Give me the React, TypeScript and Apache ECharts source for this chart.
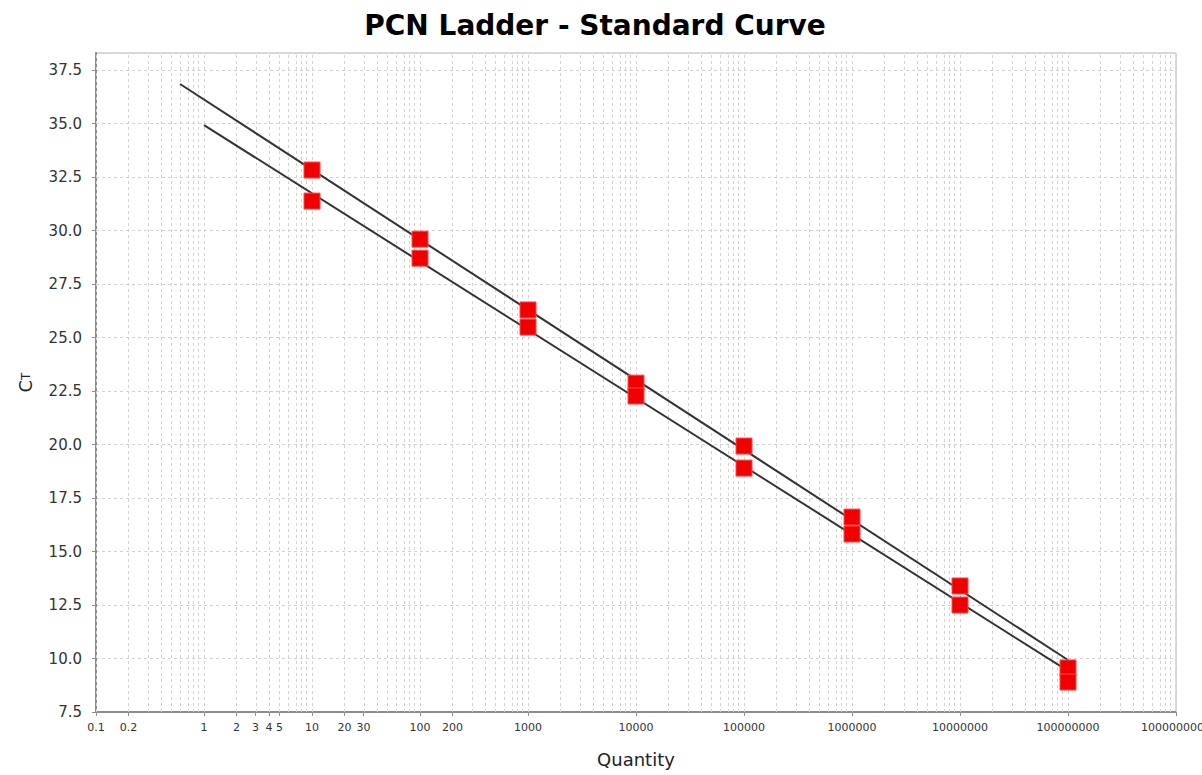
import React, { useEffect, useRef } from 'react';
import * as echarts from 'echarts';

// Quantities (copies) of the standards
const standardQuantity = [10, 100, 1000, 10000, 100000, 1000000, 10000000, 100000000];
// Ct values of the two replicate sets
const ctUpper = [32.83, 29.6, 26.29, 22.87, 19.93, 16.61, 13.39, 9.56];
const ctLower = [31.38, 28.71, 25.49, 22.27, 18.9, 15.82, 12.5, 8.9];
// Fitted standard-curve endpoints
const fitUpperQuantity = [0.6, 100000000];
const fitUpperCt = [36.85, 9.93];
const fitLowerQuantity = [1, 100000000];
const fitLowerCt = [34.93, 9.42];
// Tick labels of the quantity axis
const xTickQuantity = [0.1, 0.2, 1, 2, 3, 4, 5, 10, 20, 30, 100, 200, 1000, 10000, 100000, 1000000, 10000000, 100000000, 1000000000];
const xTickText = ['0.1', '0.2', '1', '2', '3', '4', '5', '10', '20', '30', '100', '200', '1000', '10000', '100000', '1000000', '10000000', '100000000', '1000000000'];
// Decades and minor multipliers of the log grid
const gridDecades = [0.1, 1, 10, 100, 1000, 10000, 100000, 1000000, 10000000, 100000000];
const gridMultipliers = [1, 2, 3, 4, 5, 6, 7, 8, 9];
const yMin = 7.5;
const yMax = 38.3;
const yStep = 2.5;

const lg = (q: number) => Math.log10(q);

export default function App() {
  const ref = useRef<HTMLDivElement>(null);
  useEffect(() => {
    document.body.style.margin = '0';
    const chart = echarts.init(ref.current as HTMLDivElement, null, { renderer: 'svg' });
    const gridLines: number[] = [];
    gridDecades.forEach((d) => gridMultipliers.forEach((m) => gridLines.push(lg(d * m))));
    gridLines.push(lg(1000000000));
    const tickVals = xTickQuantity.map(lg);
    const font = 'DejaVu Sans';
    const option: any = {
      animation: false,
      backgroundColor: '#ffffff',
      title: {
        text: 'PCN Ladder - Standard Curve',
        left: 590,
        textAlign: 'center',
        top: 6,
        textStyle: { fontFamily: font, fontWeight: 'bold', fontSize: 28, color: '#000' },
      },
      grid: {
        left: 96,
        right: 26,
        top: 53,
        bottom: 63,
        containLabel: false,
        outerBoundsMode: 'none',
        show: true,
        borderColor: '#b4b4b4',
        borderWidth: 1,
        backgroundColor: '#ffffff',
      },
      xAxis: {
        type: 'value',
        min: lg(0.1),
        max: lg(1000000000),
        name: 'Quantity',
        nameLocation: 'middle',
        nameGap: 38,
        nameTextStyle: { fontFamily: font, fontSize: 18, color: '#222' },
        axisLine: { show: true, onZero: false, lineStyle: { color: '#8c8c8c', width: 2 } },
        axisTick: { show: true, length: 4, customValues: tickVals, lineStyle: { color: '#8c8c8c' } },
        axisLabel: {
          customValues: tickVals,
          margin: 10,
          fontFamily: font,
          fontSize: 11,
          color: '#333',
          hideOverlap: false,
          formatter: (v: number) => {
            let best = 0;
            tickVals.forEach((t, i) => {
              if (Math.abs(t - v) < Math.abs(tickVals[best] - v)) best = i;
            });
            return xTickText[best];
          },
        },
        splitLine: { show: false },
      },
      yAxis: {
        type: 'value',
        min: yMin,
        max: yMax,
        interval: yStep,
        name: '{c|C}{t|T}',
        nameLocation: 'middle',
        nameRotate: 90,
        nameGap: 62,
        nameTextStyle: {
          fontFamily: font,
          color: '#222',
          rich: {
            c: { fontFamily: font, fontSize: 18, color: '#222' },
            t: { fontFamily: font, fontSize: 12, color: '#222', verticalAlign: 'bottom', padding: [0, 0, 2, 0] },
          },
        },
        axisLine: { show: true, onZero: false, lineStyle: { color: '#8c8c8c', width: 2 } },
        axisTick: { show: true, length: 4, lineStyle: { color: '#8c8c8c' } },
        axisLabel: {
          margin: 14,
          fontFamily: font,
          fontSize: 15,
          color: '#333',
          showMaxLabel: false,
          formatter: (v: number) => {
            const k = (v - yMin) / yStep;
            if (Math.abs(k - Math.round(k)) > 1e-6) return '';
            return v.toFixed(1);
          },
        },
        splitLine: { show: true, lineStyle: { color: '#d2d2d2', type: [3, 3], width: 1 } },
      },
      series: [
        {
          type: 'scatter',
          data: [],
          z: 1,
          silent: true,
          markLine: {
            silent: true,
            z: 1,
            symbol: ['none', 'none'],
            label: { show: false },
            lineStyle: { color: '#d2d2d2', type: [3, 3], width: 1 },
            emphasis: { disabled: true },
            data: gridLines.map((x) => ({ xAxis: x })),
          },
        },
        {
          type: 'line',
          name: 'fit upper',
          z: 3,
          showSymbol: false,
          silent: true,
          lineStyle: { color: '#333333', width: 2 },
          data: fitUpperQuantity.map((q, i) => [lg(q), fitUpperCt[i]]),
        },
        {
          type: 'line',
          name: 'fit lower',
          z: 3,
          showSymbol: false,
          silent: true,
          lineStyle: { color: '#333333', width: 2 },
          data: fitLowerQuantity.map((q, i) => [lg(q), fitLowerCt[i]]),
        },
        {
          type: 'scatter',
          name: 'standards upper',
          z: 4,
          symbol: 'rect',
          symbolSize: 16,
          itemStyle: { color: '#f00000', borderColor: '#ff4a4a', borderWidth: 1, opacity: 1 },
          data: standardQuantity.map((q, i) => [lg(q), ctUpper[i]]),
        },
        {
          type: 'scatter',
          name: 'standards lower',
          z: 4,
          symbol: 'rect',
          symbolSize: 16,
          itemStyle: { color: '#f00000', borderColor: '#ff4a4a', borderWidth: 1, opacity: 1 },
          data: standardQuantity.map((q, i) => [lg(q), ctLower[i]]),
        },
      ],
    };
    chart.setOption(option);
    return () => chart.dispose();
  }, []);
  return <div ref={ref} style={{ width: 1202, height: 775, background: '#ffffff' }} />;
}
